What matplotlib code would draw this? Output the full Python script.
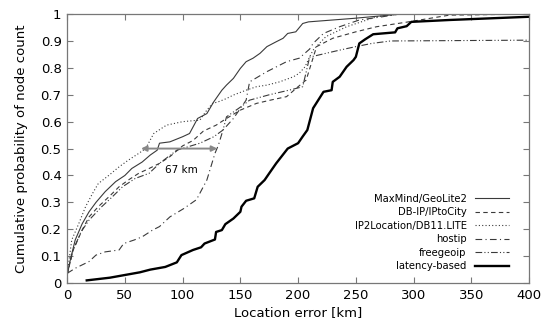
import matplotlib
matplotlib.use("Agg")
import matplotlib.pyplot as plt

# Location error [km] vs cumulative probability
maxmind_x = [0, 3, 7, 13, 19, 25, 33, 42, 50, 56, 65, 72, 78, 80, 89, 100, 106, 113, 121, 127,
             134, 138, 144, 150, 155, 161, 167, 173, 181, 187, 191, 198, 204, 209, 248, 289, 400]
maxmind_y = [0.03, 0.09, 0.16, 0.22, 0.265, 0.30, 0.34, 0.377, 0.40, 0.426, 0.45, 0.476, 0.494, 0.52,
             0.525, 0.544, 0.556, 0.612, 0.63, 0.674, 0.717, 0.736, 0.761, 0.798, 0.823, 0.836, 0.854,
             0.879, 0.897, 0.91, 0.928, 0.934, 0.965, 0.971, 0.984, 1.0, 1.0]

dbip_x = [0, 5, 13, 19, 27, 36, 45, 53, 62, 71, 80, 89, 100, 109, 118, 129, 138, 150, 164, 176,
          190, 200, 207, 216, 230, 250, 268, 294, 331, 400]
dbip_y = [0.03, 0.12, 0.197, 0.246, 0.284, 0.32, 0.358, 0.383, 0.408, 0.426, 0.445, 0.47, 0.51, 0.53,
          0.565, 0.587, 0.612, 0.643, 0.668, 0.68, 0.693, 0.73, 0.755, 0.879, 0.91, 0.934, 0.953,
          0.97, 0.996, 1.0]

ip2loc_x = [0, 4, 10, 16, 22, 27, 36, 45, 53, 62, 68, 75, 86, 100, 115, 121, 126, 131, 138, 144,
            155, 164, 173, 184, 196, 201, 206, 210, 213, 224, 242, 268, 288, 400]
ip2loc_y = [0.03, 0.16, 0.22, 0.284, 0.333, 0.37, 0.40, 0.432, 0.457, 0.482, 0.50, 0.556, 0.587, 0.60,
            0.606, 0.643, 0.668, 0.674, 0.686, 0.699, 0.717, 0.73, 0.736, 0.748, 0.767, 0.78, 0.804,
            0.841, 0.866, 0.916, 0.953, 0.99, 1.0, 1.0]

hostip_x = [0, 7, 19, 25, 33, 45, 49, 58, 65, 74, 80, 89, 101, 112, 121, 128, 131, 135, 144, 155,
            158, 173, 190, 201, 210, 213, 222, 236, 253, 273, 288, 400]
hostip_y = [0.036, 0.055, 0.08, 0.104, 0.116, 0.123, 0.147, 0.16, 0.172, 0.197, 0.21, 0.246, 0.277,
            0.31, 0.383, 0.482, 0.513, 0.569, 0.612, 0.68, 0.748, 0.786, 0.823, 0.836, 0.87, 0.891,
            0.928, 0.953, 0.978, 0.99, 1.0, 1.0]

freegeo_x = [0, 5, 12, 19, 30, 39, 48, 59, 71, 80, 95, 115, 127, 135, 138, 152, 158, 175, 195, 204,
             210, 236, 250, 264, 280, 400]
freegeo_y = [0.03, 0.12, 0.19, 0.234, 0.284, 0.32, 0.358, 0.389, 0.408, 0.445, 0.494, 0.52, 0.544,
             0.569, 0.618, 0.66, 0.68, 0.70, 0.72, 0.73, 0.84, 0.866, 0.879, 0.891, 0.90, 0.903]

latency_x = [17, 37, 63, 72, 85, 95, 99, 109, 116, 119, 128, 129, 134, 137, 144, 150, 151, 155, 162,
             165, 171, 175, 181, 191, 200, 204, 208, 213, 222, 229, 230, 236, 242, 248, 250, 253,
             258, 265, 284, 286, 294, 298, 331, 400]
latency_y = [0.01, 0.02, 0.04, 0.05, 0.06, 0.077, 0.104, 0.123, 0.133, 0.147, 0.162, 0.19, 0.197,
             0.219, 0.24, 0.265, 0.284, 0.306, 0.315, 0.358, 0.383, 0.408, 0.445, 0.50, 0.52, 0.545,
             0.569, 0.65, 0.711, 0.717, 0.748, 0.767, 0.804, 0.829, 0.841, 0.891, 0.906, 0.925,
             0.932, 0.947, 0.955, 0.971, 0.978, 0.99]

# 67 km gap annotation at the median
gap_start, gap_end, gap_level = 64, 130, 0.5

fig = plt.figure(figsize=(5.5, 3.35), dpi=100)
ax = fig.add_axes([0.122, 0.155, 0.840, 0.803])

thin = dict(color="#3a3a3a", lw=0.8)
ax.plot(maxmind_x, maxmind_y, ls="-", label="MaxMind/GeoLite2", **thin)
ax.plot(dbip_x, dbip_y, ls=(0, (4, 3)), label="DB-IP/IPtoCity", **thin)
ax.plot(ip2loc_x, ip2loc_y, ls=(0, (1, 2)), label="IP2Location/DB11.LITE", **thin)
ax.plot(hostip_x, hostip_y, ls=(0, (6, 3, 1, 3)), label="hostip", **thin)
ax.plot(freegeo_x, freegeo_y, ls=(0, (6, 2, 1, 2, 1, 2)), label="freegeoip", **thin)
ax.plot(latency_x, latency_y, color="black", lw=1.7, label="latency-based")

ax.annotate("", xy=(gap_start, gap_level), xytext=(gap_end, gap_level),
            arrowprops=dict(arrowstyle="<|-|>", color="#888888", lw=1.4,
                            mutation_scale=8, shrinkA=0, shrinkB=0))
ax.text(99, 0.42, "67 km", fontsize=7.5, ha="center", va="center")

ax.set_xlim(0, 400)
ax.set_ylim(0, 1)
ax.set_xticks(range(0, 401, 50))
ax.set_yticks([i / 10 for i in range(11)])
ax.set_yticklabels(["0", "0.1", "0.2", "0.3", "0.4", "0.5", "0.6", "0.7", "0.8", "0.9", "1"])
ax.tick_params(direction="in", length=4, width=0.8, color="#777777", labelsize=9.5,
               top=True, right=True, pad=4)
for s in ax.spines.values():
    s.set_color("#777777")
    s.set_linewidth(0.9)

ax.set_xlabel("Location error [km]", fontsize=9.5, labelpad=3)
ax.set_ylabel("Cumulative probability of node count", fontsize=9.5, labelpad=9)

ax.legend(loc="lower right", fontsize=7.2, frameon=False, markerfirst=False,
          handlelength=3.4, handletextpad=0.8, labelspacing=0.35,
          bbox_to_anchor=(0.975, 0.01))

fig.savefig("out.png", dpi=100)
